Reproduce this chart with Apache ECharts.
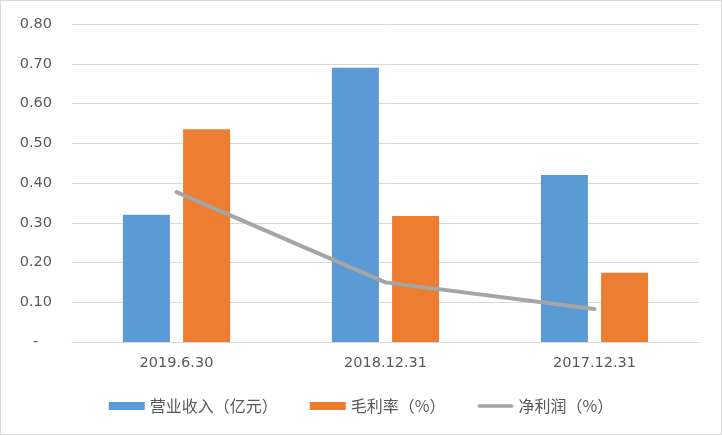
<!DOCTYPE html>
<html><head><meta charset="utf-8">
<script src="https://cdn.jsdelivr.net/npm/echarts@6/dist/echarts.min.js"></script>
<style>html,body{margin:0;padding:0;background:#fff}#c{width:722px;height:435px;box-sizing:border-box;border:1px solid #d9d9d9}</style>
</head><body><div id="c"></div>
<script>
const categories = ['2019.6.30', '2018.12.31', '2017.12.31'];
const revenue = [0.32, 0.69, 0.42];
const grossMargin = [0.535, 0.317, 0.174];
const netMargin = [0.377, 0.150, 0.083];
const seriesNames = ['营业收入（亿元）', '毛利率（%）', '净利润（%）'];
const yTickMin = 0, yTickMax = 0.8, yTickStep = 0.1;

const chart = echarts.init(document.getElementById('c'), null, {renderer: 'canvas'});
const numFont = '"DejaVu Sans", "Noto Sans CJK SC", sans-serif';
const cjkFont = '"Noto Sans CJK SC", "DejaVu Sans", sans-serif';
const lineIcon = 'path://M2,0L38,0A2,2,0,0,1,38,4L2,4A2,2,0,0,1,2,0Z';
chart.setOption({
  animation: false,
  textStyle: {fontFamily: numFont},
  grid: {left: 71, right: 22, top: 23, bottom: 92, containLabel: false},
  legend: {
    top: 392, left: 'center', itemGap: 32, itemWidth: 36, itemHeight: 8,
    symbolKeepAspect: true,
    textStyle: {fontSize: 16, color: '#595959', fontFamily: cjkFont},
    data: [
      {name: seriesNames[0], icon: 'rect'},
      {name: seriesNames[1], icon: 'rect'},
      {name: seriesNames[2], icon: lineIcon, itemStyle: {color: '#a5a5a5'}}
    ]
  },
  xAxis: {
    type: 'category', data: categories,
    axisLine: {lineStyle: {color: '#d9d9d9', width: 1}},
    axisTick: {show: false},
    axisLabel: {color: '#595959', fontSize: 14.5, margin: 14}
  },
  yAxis: {
    type: 'value', min: yTickMin, max: yTickMax, interval: yTickStep,
    axisLine: {show: false}, axisTick: {show: false},
    splitLine: {lineStyle: {color: '#d9d9d9', width: 1}},
    axisLabel: {color: '#595959', fontSize: 14.5, margin: 20,
      formatter: v => v === 0 ? '-   ' : v.toFixed(2)}
  },
  series: [
    {name: seriesNames[0], type: 'bar', data: revenue, barWidth: '22.5%', barGap: '28%',
     itemStyle: {color: '#5b9bd5'}},
    {name: seriesNames[1], type: 'bar', data: grossMargin, barWidth: '22.5%', barGap: '28%',
     itemStyle: {color: '#ed7d31'}},
    {name: seriesNames[2], type: 'line', data: netMargin, symbol: 'none',
     lineStyle: {color: '#a5a5a5', width: 4, cap: 'round', join: 'round'},
     itemStyle: {color: '#a5a5a5'}}
  ]
});
</script></body></html>
